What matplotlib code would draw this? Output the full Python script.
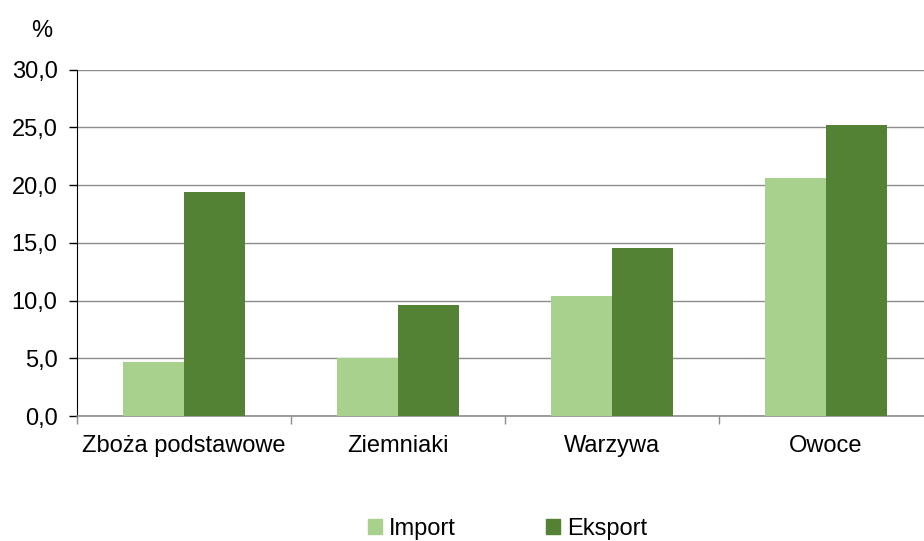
import numpy as np
import matplotlib
matplotlib.use('Agg')
import matplotlib.pyplot as plt
from matplotlib.patches import Patch

plt.rcParams['font.family'] = ['Liberation Sans', 'DejaVu Sans']

categories = ['Zboża podstawowe', 'Ziemniaki', 'Warzywa', 'Owoce']
import_vals = [4.7, 5.0, 10.4, 20.6]
eksport_vals = [19.4, 9.6, 14.6, 25.2]
yticks = [0, 5, 10, 15, 20, 25, 30]

c_imp = '#a9d18e'
c_eks = '#548235'
fs = 17

fig = plt.figure(figsize=(9.24, 5.41), dpi=100)
ax = fig.add_axes([77 / 924, 0.231, 856 / 924, 0.640])

x = np.arange(len(categories))
w = 0.285
ax.bar(x - w / 2, import_vals, w, color=c_imp, zorder=3)
ax.bar(x + w / 2, eksport_vals, w, color=c_eks, zorder=3)

ax.set_xlim(-0.5, len(categories) - 0.5)
ax.set_ylim(0, 30)
ax.set_yticks(yticks)
ax.set_yticklabels([f'{v:.1f}'.replace('.', ',') for v in yticks], fontsize=fs)
ax.yaxis.grid(True, color='#8c8c8c', linewidth=1, zorder=0)

# kreski podziału między kategoriami, etykiety na środku
ax.set_xticks(np.arange(len(categories) + 1) - 0.5)
ax.set_xticklabels([])
ax.set_xticks(x, minor=True)
ax.set_xticklabels(categories, minor=True, fontsize=fs)
ax.tick_params(axis='x', which='minor', length=0, pad=14)
ax.tick_params(axis='x', which='major', length=6, color='#8c8c8c', width=1)
ax.tick_params(axis='y', length=6, width=1, pad=8)

for s in ['top', 'right']:
    ax.spines[s].set_visible(False)
ax.spines['left'].set_color('black')
ax.spines['bottom'].set_color('#8c8c8c')
ax.spines['bottom'].set_linewidth(1.2)

fig.text(0.045, 0.943, '%', fontsize=fs, ha='center', va='center')

handles = [Patch(color=c_imp, label='Import'), Patch(color=c_eks, label='Eksport')]
fig.legend(handles=handles, loc='center', bbox_to_anchor=(0.549, 0.022), ncol=2,
           frameon=False, fontsize=fs, handlelength=0.6, handleheight=0.6,
           handletextpad=0.3, columnspacing=3.8)

fig.savefig('out.png', dpi=100)
